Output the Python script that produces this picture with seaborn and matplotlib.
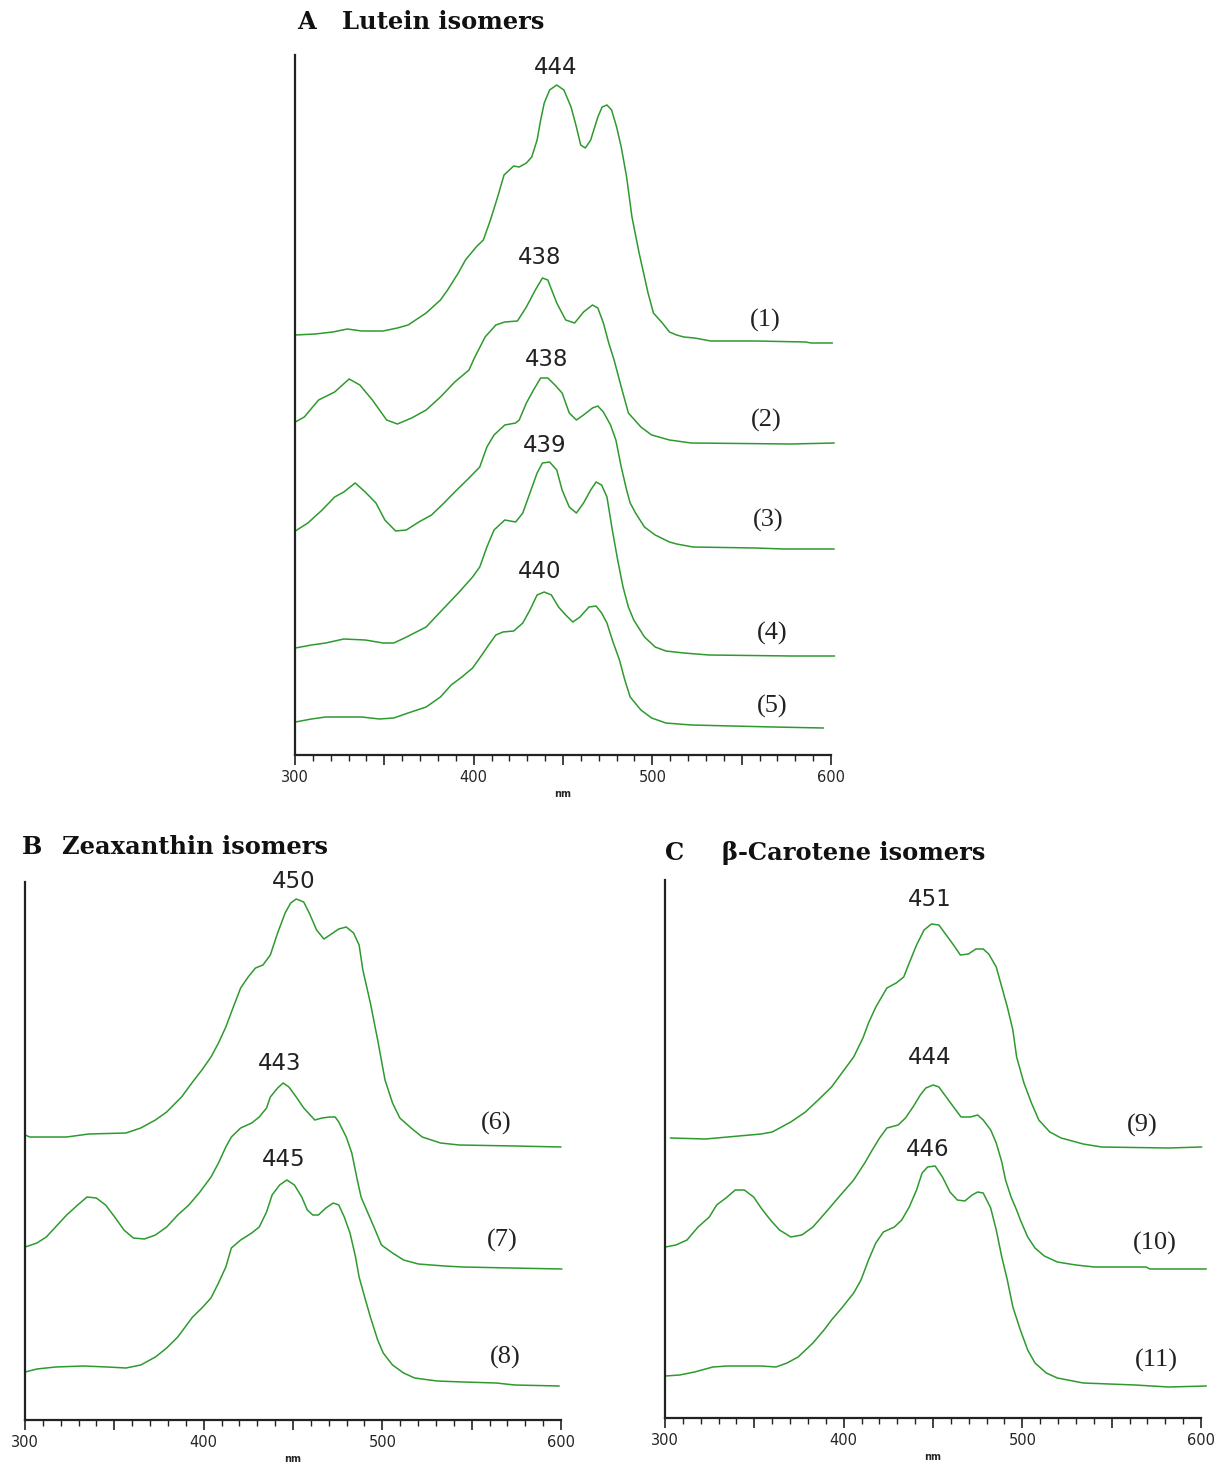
import matplotlib
matplotlib.use("Agg")
import matplotlib.pyplot as plt
from matplotlib.ticker import MultipleLocator, FuncFormatter
import seaborn as sns

# spectra: wavelength (nm) and stacked absorbance (arbitrary units)
lut1_nm = [300.2, 311.2, 321.2, 329.3, 337.3, 349.3, 357.3, 363.3, 373.4, 381.4, 385.4, 391.4, 395.4, 401.4,
           405.4, 409.4, 413.4, 417.0, 422.4, 425.5, 429.5, 432.5, 435.5, 437.5, 439.5, 442.5, 446.5, 450.5,
           454.5, 457.5, 459.9, 462.5, 465.5, 469.5, 471.9, 474.6, 477.2, 480.0, 482.6, 485.6, 488.6, 492.6,
           497.6, 500.6, 505.6, 509.6, 513.6, 517.6, 523.6, 532.7, 557.7, 585.8, 588.8, 600.8]
lut1_y = [420, 421, 423, 426, 424, 424, 427, 430, 442, 455, 465, 482, 495, 508, 515, 535, 558, 580, 589, 588,
          592, 598, 615, 635, 652, 665, 670, 665, 648, 628, 610, 607, 615, 638, 648, 650, 645, 628, 608, 578,
          538, 502, 462, 442, 432, 423, 420, 418, 417, 414, 414, 413, 412, 412]

lut2_nm = [300.2, 305.2, 313.2, 322.2, 330.3, 336.3, 343.3, 351.3, 357.3, 365.3, 373.4, 381.4, 389.4, 397.4,
           400.4, 406.4, 412.4, 417.4, 424.5, 429.5, 434.5, 438.5, 441.5, 446.5, 451.5, 456.5, 461.5, 466.5,
           469.5, 472.6, 475.6, 478.6, 482.6, 486.6, 493.6, 499.6, 509.6, 521.7, 577.8, 601.8]
lut2_y = [333, 338, 355, 363, 376, 370, 355, 335, 331, 337, 345, 358, 373, 385, 397, 418, 430, 433, 434, 448,
          465, 477, 475, 452, 435, 432, 443, 450, 447, 432, 412, 395, 368, 342, 328, 320, 315, 312, 311, 312]

lut3_nm = [300.2, 307.2, 315.2, 322.2, 327.3, 333.7, 339.3, 345.3, 350.3, 356.3, 362.3, 369.3, 376.4, 383.4,
           389.4, 397.4, 403.4, 407.4, 411.4, 417.4, 423.5, 425.5, 429.5, 433.5, 437.5, 441.5, 445.5, 449.5,
           453.5, 457.5, 461.5, 466.5, 469.5, 472.6, 476.6, 479.6, 482.6, 485.6, 487.6, 490.6, 495.6, 501.6,
           509.6, 513.6, 522.7, 557.7, 573.8, 601.8]
lut3_y = [224, 232, 245, 258, 263, 272, 263, 252, 235, 224, 225, 233, 240, 252, 263, 277, 288, 308, 320, 330,
          332, 335, 352, 365, 377, 377, 370, 362, 342, 335, 340, 347, 349, 343, 330, 315, 288, 265, 252, 242,
          228, 220, 213, 211, 208, 207, 206, 206]

lut4_nm = [300.2, 309.2, 317.2, 327.3, 339.3, 349.3, 355.3, 361.3, 373.4, 383.4, 391.4, 399.4, 403.4, 407.4,
           411.4, 417.4, 423.5, 427.5, 431.5, 435.5, 438.5, 442.5, 446.5, 449.5, 453.5, 457.5, 461.5, 465.5,
           468.5, 471.6, 474.6, 477.6, 480.6, 483.6, 486.6, 489.6, 495.6, 501.6, 507.6, 517.6, 531.7, 577.8, 602.0]
lut4_y = [107, 110, 112, 116, 115, 112, 112, 117, 128, 147, 162, 178, 188, 208, 225, 235, 233, 242, 262, 282,
          292, 293, 285, 265, 248, 242, 252, 265, 273, 270, 258, 225, 195, 168, 148, 135, 118, 108, 104, 102,
          100, 99, 99]

lut5_nm = [300.2, 309.2, 317.2, 327.3, 337.3, 347.3, 355.3, 363.3, 373.4, 381.4, 387.4, 393.4, 399.4, 403.4,
           408.4, 412.4, 416.4, 422.4, 427.5, 431.5, 435.5, 439.5, 443.5, 447.5, 451.5, 455.5, 459.5, 464.5,
           468.5, 471.6, 474.6, 477.6, 481.6, 484.6, 487.6, 493.6, 499.6, 507.6, 521.7, 567.7, 595.8]
lut5_y = [33, 36, 38, 38, 38, 36, 37, 42, 48, 58, 70, 78, 87, 97, 110, 120, 123, 124, 132, 145, 160, 163, 160,
          148, 140, 133, 138, 148, 149, 142, 132, 115, 95, 75, 58, 45, 37, 32, 30, 28, 27]

zea6_nm = [300.1, 302.6, 323.3, 335.7, 356.5, 364.8, 373.0, 379.3, 387.6, 393.8, 399.0, 404.1, 408.3, 412.4,
           416.6, 420.7, 424.9, 429.0, 433.2, 437.3, 441.4, 445.6, 448.7, 451.8, 456.0, 459.1, 463.2, 467.3,
           471.5, 475.6, 479.8, 483.9, 487.0, 489.1, 493.3, 497.4, 501.5, 505.7, 509.8, 516.1, 522.3, 532.6,
           543.0, 574.1, 600.0]
zea6_y = [285, 283, 283, 286, 287, 292, 300, 308, 323, 338, 350, 363, 377, 393, 413, 432, 443, 452, 455, 465,
          487, 507, 517, 521, 518, 507, 490, 481, 486, 491, 493, 487, 475, 450, 417, 380, 340, 317, 302, 292,
          283, 277, 275, 274, 273]

zea7_nm = [300.1, 306.7, 311.9, 317.1, 323.3, 329.5, 334.7, 339.9, 345.1, 350.2, 355.4, 360.6, 366.8, 373.0,
           379.3, 385.5, 391.7, 397.9, 404.1, 408.3, 412.4, 415.5, 420.7, 426.9, 431.1, 435.2, 437.3, 441.4,
           444.5, 447.7, 451.8, 456.0, 462.2, 466.3, 470.5, 473.6, 475.6, 479.8, 482.9, 486.0, 488.1, 491.2,
           495.3, 499.5, 505.7, 511.9, 520.2, 534.7, 545.1, 572.0, 600.5]
zea7_y = [173, 177, 183, 193, 205, 215, 223, 222, 215, 203, 190, 182, 181, 185, 193, 205, 215, 228, 243, 257,
          273, 283, 292, 297, 303, 312, 323, 332, 337, 333, 323, 312, 300, 302, 303, 303, 298, 283, 267, 240,
          223, 210, 193, 175, 167, 160, 156, 154, 153, 152, 151]

zea8_nm = [300.1, 306.7, 317.1, 332.6, 346.1, 356.5, 364.8, 373.0, 379.3, 385.5, 393.8, 399.0, 404.1, 408.3,
           412.4, 415.5, 420.7, 426.9, 431.1, 435.2, 438.3, 442.5, 446.6, 450.8, 454.9, 458.0, 461.1, 464.2,
           468.4, 472.5, 475.6, 478.7, 481.9, 485.0, 487.0, 490.1, 493.3, 497.4, 500.5, 505.7, 511.9, 518.1,
           530.6, 545.1, 563.7, 574.1, 599.0]
zea8_y = [48, 51, 53, 54, 53, 52, 55, 63, 72, 83, 103, 112, 122, 137, 153, 172, 180, 187, 193, 208, 225, 235,
          240, 235, 223, 210, 205, 205, 212, 217, 215, 203, 187, 163, 143, 123, 103, 80, 67, 55, 47, 42, 39,
          38, 37, 35, 34]

car9_nm = [303.0, 322.7, 341.3, 353.8, 360.0, 370.4, 378.6, 386.9, 393.2, 399.4, 405.6, 410.8, 413.9, 418.0,
           424.2, 429.4, 433.6, 436.7, 440.8, 445.0, 449.1, 453.3, 457.4, 461.5, 465.3, 469.8, 474.0, 478.1,
           481.2, 485.4, 488.5, 491.6, 494.7, 496.8, 500.9, 505.1, 509.2, 515.4, 521.7, 534.1, 544.4, 581.8, 600.4]
car9_y = [280, 279, 282, 284, 286, 296, 306, 320, 331, 346, 361, 380, 395, 411, 430, 435, 441, 455, 473, 488,
          494, 493, 483, 473, 463, 464, 469, 469, 464, 451, 431, 411, 388, 361, 335, 315, 298, 286, 280, 274,
          271, 270, 271]

car10_nm = [300.3, 306.1, 312.3, 318.5, 324.8, 328.9, 334.1, 339.3, 344.4, 349.6, 353.8, 359.0, 364.1, 370.4,
            376.6, 382.8, 391.1, 397.3, 405.6, 411.8, 416.0, 420.1, 424.2, 430.5, 434.6, 438.8, 442.9, 446.0,
            450.1, 453.3, 457.4, 461.5, 465.7, 470.9, 475.0, 478.1, 482.3, 485.4, 488.5, 490.6, 493.7, 496.8,
            498.9, 503.0, 507.1, 512.3, 519.6, 529.9, 540.3, 569.3, 571.4, 603.0]
car10_y = [171, 173, 178, 191, 201, 213, 220, 228, 228, 221, 210, 198, 188, 181, 183, 191, 208, 221, 238, 255,
           268, 280, 290, 293, 300, 311, 323, 330, 333, 331, 321, 311, 301, 301, 303, 298, 288, 275, 256, 238,
           221, 208, 198, 181, 170, 162, 156, 153, 151, 151, 149, 149]

car11_nm = [300.3, 308.2, 316.5, 326.8, 335.1, 345.5, 353.8, 362.1, 368.3, 374.5, 382.8, 389.0, 393.2, 399.4,
            405.6, 409.7, 413.9, 418.0, 422.2, 428.4, 432.5, 436.7, 440.8, 443.9, 447.0, 451.2, 455.3, 459.5,
            463.6, 467.8, 471.9, 475.0, 478.1, 482.3, 485.4, 488.5, 491.6, 494.7, 498.9, 503.0, 507.1, 513.4,
            519.6, 534.1, 563.1, 581.8, 603.0]
car11_y = [42, 43, 46, 51, 52, 52, 52, 51, 55, 61, 75, 88, 98, 111, 125, 138, 158, 175, 186, 191, 198, 211,
           228, 245, 251, 252, 241, 226, 218, 217, 223, 226, 225, 210, 188, 161, 138, 111, 88, 68, 55, 45, 40,
           35, 33, 31, 32]

# annotations: peak maxima and curve numbers
lut_peaks = ["444", "438", "438", "439", "440"]
lut_peak_x = [446, 437, 441, 440, 437]
lut_peak_y = [687, 497, 395, 309, 183]
lut_names = ["(1)", "(2)", "(3)", "(4)", "(5)"]
lut_name_x = [563, 564, 565, 567, 567]
lut_name_y = [435, 335, 235, 122, 49]

zea_peaks = ["450", "443", "445"]
zea_peak_x = [450.5, 442.7, 445]
zea_peak_y = [538, 356, 260]
zea_names = ["(6)", "(7)", "(8)"]
zea_name_x = [564, 567, 569]
zea_name_y = [297, 180, 63]

car_peaks = ["451", "444", "446"]
car_peak_x = [448, 448, 447]
car_peak_y = [518, 361, 268]
car_names = ["(9)", "(10)", "(11)"]
car_name_x = [567, 574, 575]
car_name_y = [293, 175, 58]

GREEN = "#2e9a2e"
AXCOL = "#222222"

sns.set_style("ticks")
plt.rcParams["font.family"] = ["DejaVu Sans"]

fig = plt.figure(figsize=(12.28, 14.68), dpi=100)
ax_a = fig.add_axes([295 / 1228, 1 - 755 / 1468, 536 / 1228, 700 / 1468])
ax_b = fig.add_axes([25 / 1228, 1 - 1420 / 1468, 536 / 1228, 538 / 1468])
ax_c = fig.add_axes([665 / 1228, 1 - 1418 / 1468, 536 / 1228, 538 / 1468])


def draw_panel(ax, curves, ymax, peaks, px, py, names, nx, ny):
    for nm, vals in curves:
        sns.lineplot(x=nm, y=vals, ax=ax, color=GREEN, linewidth=1.1,
                     estimator=None, sort=False, clip_on=False)
    for t, x, y in zip(peaks, px, py):
        ax.text(x, y, t, ha="center", va="center", fontsize=16.5, color="#222222")
    for t, x, y in zip(names, nx, ny):
        ax.text(x, y, t, ha="center", va="center", fontsize=19,
                family=["Liberation Serif", "DejaVu Serif"], color="#222222")
    ax.set_xlim(300, 600)
    ax.set_ylim(0, ymax)
    ax.set_yticks([])
    ax.set_ylabel("")
    for s in ["top", "right"]:
        ax.spines[s].set_visible(False)
    for s in ["left", "bottom"]:
        ax.spines[s].set_color(AXCOL)
        ax.spines[s].set_linewidth(1.6)
    ax.xaxis.set_major_locator(MultipleLocator(50))
    ax.xaxis.set_minor_locator(MultipleLocator(10))
    ax.xaxis.set_major_formatter(FuncFormatter(lambda v, p: f"{v:.0f}" if v % 100 == 0 else ""))
    ax.tick_params(axis="x", which="major", length=7, width=1.2, color=AXCOL,
                   labelsize=10.5, pad=4, direction="out")
    ax.tick_params(axis="x", which="minor", length=4, width=1.0, color=AXCOL, direction="out")
    ax.set_xlabel("nm", fontsize=7, fontweight="bold", labelpad=3)
    ax.set_facecolor("white")


draw_panel(ax_a, [(lut1_nm, lut1_y), (lut2_nm, lut2_y), (lut3_nm, lut3_y), (lut4_nm, lut4_y), (lut5_nm, lut5_y)],
           700, lut_peaks, lut_peak_x, lut_peak_y, lut_names, lut_name_x, lut_name_y)
draw_panel(ax_b, [(zea6_nm, zea6_y), (zea7_nm, zea7_y), (zea8_nm, zea8_y)],
           538, zea_peaks, zea_peak_x, zea_peak_y, zea_names, zea_name_x, zea_name_y)
draw_panel(ax_c, [(car9_nm, car9_y), (car10_nm, car10_y), (car11_nm, car11_y)],
           538, car_peaks, car_peak_x, car_peak_y, car_names, car_name_x, car_name_y)

# panel titles
title_kw = dict(fontsize=17.4, fontweight="bold", family=["DejaVu Serif"], va="center", ha="left", color="#111111")
fig.text(297 / 1228, 1 - 22 / 1468, "A", **title_kw)
fig.text(342 / 1228, 1 - 22 / 1468, "Lutein isomers", **title_kw)
fig.text(22 / 1228, 1 - 847 / 1468, "B", **title_kw)
fig.text(62 / 1228, 1 - 847 / 1468, "Zeaxanthin isomers", **title_kw)
fig.text(665 / 1228, 1 - 853 / 1468, "C", **title_kw)
fig.text(722 / 1228, 1 - 853 / 1468, "β-Carotene isomers", **title_kw)

fig.savefig("out.png", dpi=100, facecolor="white")
